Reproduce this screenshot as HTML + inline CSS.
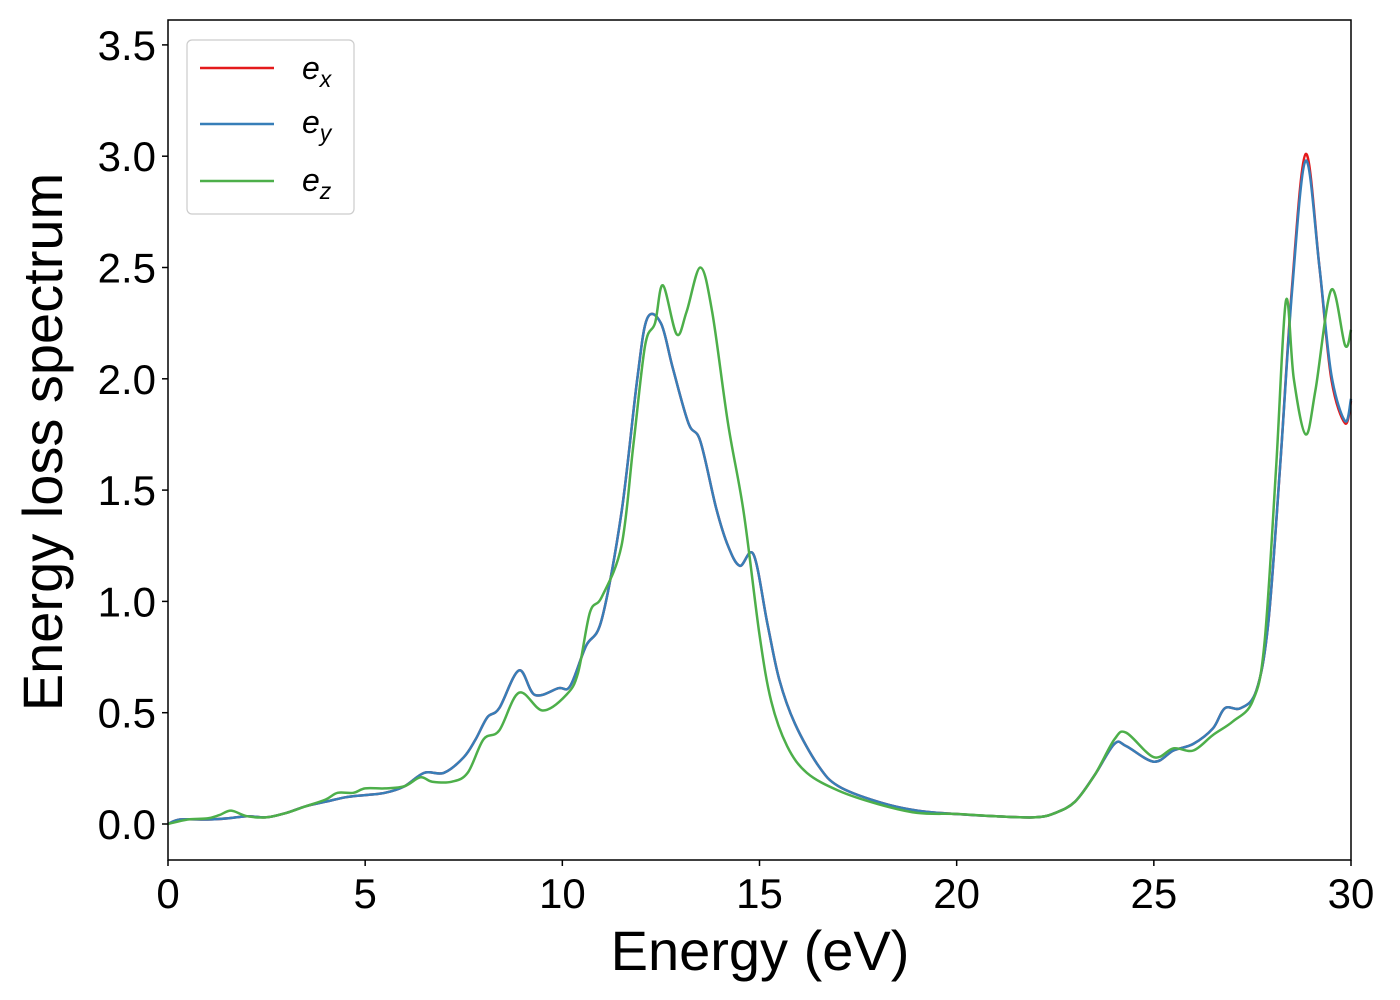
<!DOCTYPE html>
<html><head><meta charset="utf-8"><style>
html,body{margin:0;padding:0;background:#fff}
svg{display:block;font-family:"Liberation Sans","DejaVu Sans",sans-serif}
</style></head><body>
<svg id="chart" width="1400" height="1000">
<rect x="0" y="0" width="1400" height="1000" fill="#fff"/>
<g id="series"></g>
<rect x="168" y="20" width="1183" height="840" fill="none" stroke="#000" stroke-width="1.5"/>
<g id="xticks"></g>
<g id="yticks"></g>
<text x="760" y="970" font-size="56" text-anchor="middle">Energy (eV)</text>
<text transform="translate(62,442) rotate(-90)" font-size="56" text-anchor="middle">Energy loss spectrum</text>
<g>
<rect x="187" y="40" width="167" height="174" rx="5" fill="#fff" stroke="#ccc" stroke-width="1.2"/>
<g><line x1="200" y1="68" x2="274" y2="68" stroke="#e41a1c" stroke-width="2.5"/><text x="302" y="79" font-size="32" font-style="italic">e<tspan font-size="23" dy="8">x</tspan></text></g>
<g><line x1="200" y1="124" x2="274" y2="124" stroke="#377eb8" stroke-width="2.5"/><text x="302" y="133" font-size="32" font-style="italic">e<tspan font-size="23" dy="8">y</tspan></text></g>
<g><line x1="200" y1="181" x2="274" y2="181" stroke="#4daf4a" stroke-width="2.5"/><text x="302" y="191" font-size="32" font-style="italic">e<tspan font-size="23" dy="8">z</tspan></text></g>
</g>
</svg>
<script>
const xTicks=[0,5,10,15,20,25,30];
const yTicks=[0.0,0.5,1.0,1.5,2.0,2.5,3.0,3.5];
const exE=[0,0.3,1,1.5,2,2.5,3,3.5,4,4.5,5,5.5,6,6.5,7,7.5,7.8,8.1,8.4,8.9,9.3,9.9,10.2,10.6,11,11.5,11.9,12.15,12.5,12.8,13.2,13.5,13.9,14.2,14.5,14.85,15.2,15.5,15.9,16.5,17,18,19,20,21,22,22.5,23,23.5,24,24.3,25,25.5,26,26.5,26.8,27.2,27.6,27.9,28.2,28.5,28.85,29.2,29.5,29.85,30];
const exV=[0,0.02,0.02,0.025,0.035,0.03,0.05,0.08,0.1,0.12,0.13,0.14,0.17,0.23,0.23,0.3,0.38,0.48,0.52,0.69,0.58,0.61,0.62,0.8,0.92,1.4,2.0,2.27,2.25,2.05,1.8,1.72,1.42,1.25,1.16,1.21,0.9,0.65,0.45,0.26,0.17,0.1,0.06,0.045,0.035,0.03,0.05,0.1,0.22,0.36,0.35,0.28,0.33,0.36,0.43,0.52,0.52,0.6,0.9,1.6,2.4,3.01,2.5,2.0,1.8,1.9];
const eyV=[0,0.02,0.02,0.025,0.035,0.03,0.05,0.08,0.1,0.12,0.13,0.14,0.17,0.23,0.23,0.3,0.38,0.48,0.52,0.69,0.58,0.61,0.62,0.8,0.92,1.4,2.0,2.27,2.25,2.05,1.8,1.72,1.42,1.25,1.16,1.21,0.9,0.65,0.45,0.26,0.17,0.1,0.06,0.045,0.035,0.03,0.05,0.1,0.22,0.36,0.35,0.28,0.33,0.36,0.43,0.52,0.52,0.6,0.9,1.6,2.38,2.98,2.5,2.02,1.81,1.91];
const ezE=[0,0.5,1,1.3,1.6,2,2.5,3,3.5,4,4.3,4.7,5,5.5,6,6.4,6.7,7.2,7.6,8,8.4,8.9,9.5,10.1,10.4,10.7,11,11.5,11.8,12.1,12.35,12.55,12.9,13.15,13.5,13.8,14.2,14.6,15,15.3,15.7,16.2,17,18,19,20,21,22,22.5,23,23.5,24,24.3,25,25.5,26,26.5,27,27.5,27.8,28.1,28.35,28.55,28.85,29.1,29.5,29.85,30];
const ezV=[0,0.02,0.025,0.04,0.06,0.035,0.03,0.05,0.08,0.11,0.14,0.14,0.16,0.16,0.17,0.21,0.19,0.19,0.23,0.38,0.42,0.59,0.51,0.58,0.68,0.95,1.02,1.25,1.7,2.15,2.25,2.42,2.2,2.3,2.5,2.3,1.8,1.4,0.85,0.55,0.35,0.23,0.15,0.09,0.05,0.045,0.035,0.03,0.05,0.1,0.22,0.38,0.41,0.3,0.34,0.33,0.4,0.46,0.55,0.8,1.6,2.35,2.0,1.75,1.95,2.4,2.15,2.22];
const NS="http://www.w3.org/2000/svg";
function X(e){return 168+e*(1183/30);}
function Y(v){return 824-v*222.6;}
function pathD(xs,ys){
  const p=xs.map((e,i)=>[X(e),Y(ys[i])]);
  let d="M"+p[0][0].toFixed(1)+","+p[0][1].toFixed(1);
  for(let i=0;i<p.length-1;i++){
    const p0=p[Math.max(0,i-1)],p1=p[i],p2=p[i+1],p3=p[Math.min(p.length-1,i+2)];
    const c1=[p1[0]+(p2[0]-p0[0])/6,p1[1]+(p2[1]-p0[1])/6];
    const c2=[p2[0]-(p3[0]-p1[0])/6,p2[1]-(p3[1]-p1[1])/6];
    d+=" C"+c1[0].toFixed(1)+","+c1[1].toFixed(1)+" "+c2[0].toFixed(1)+","+c2[1].toFixed(1)+" "+p2[0].toFixed(1)+","+p2[1].toFixed(1);
  }
  return d;
}
const sg=document.getElementById("series");
function addLine(xs,ys,color,name){
  const el=document.createElementNS(NS,"path");
  el.setAttribute("d",pathD(xs,ys));
  el.setAttribute("fill","none");
  el.setAttribute("stroke",color);
  el.setAttribute("stroke-width","2.5");
  
  
  sg.appendChild(el);
}
addLine(exE,exV,"#e41a1c","line-ex");
addLine(exE,eyV,"#377eb8","line-ey");
addLine(ezE,ezV,"#4daf4a","line-ez");
const xg=document.getElementById("xticks");
xTicks.forEach(t=>{
  const l=document.createElementNS(NS,"line");
  l.setAttribute("x1",X(t));l.setAttribute("x2",X(t));l.setAttribute("y1",860);l.setAttribute("y2",866);
  l.setAttribute("stroke","#000");l.setAttribute("stroke-width","1.5");
  
  
  xg.appendChild(l);
  const tx=document.createElementNS(NS,"text");
  tx.setAttribute("x",X(t));tx.setAttribute("y",908);tx.setAttribute("font-size","42");tx.setAttribute("text-anchor","middle");
  tx.textContent=t;
  
  
  xg.appendChild(tx);
});
const yg=document.getElementById("yticks");
yTicks.forEach(t=>{
  const l=document.createElementNS(NS,"line");
  l.setAttribute("x1",162);l.setAttribute("x2",168);l.setAttribute("y1",Y(t));l.setAttribute("y2",Y(t));
  l.setAttribute("stroke","#000");l.setAttribute("stroke-width","1.5");
  
  
  yg.appendChild(l);
  const tx=document.createElementNS(NS,"text");
  tx.setAttribute("x",156);tx.setAttribute("y",Y(t)+15);tx.setAttribute("font-size","42");tx.setAttribute("text-anchor","end");
  tx.textContent=t.toFixed(1);
  
  
  yg.appendChild(tx);
});
</script>
</body></html>
